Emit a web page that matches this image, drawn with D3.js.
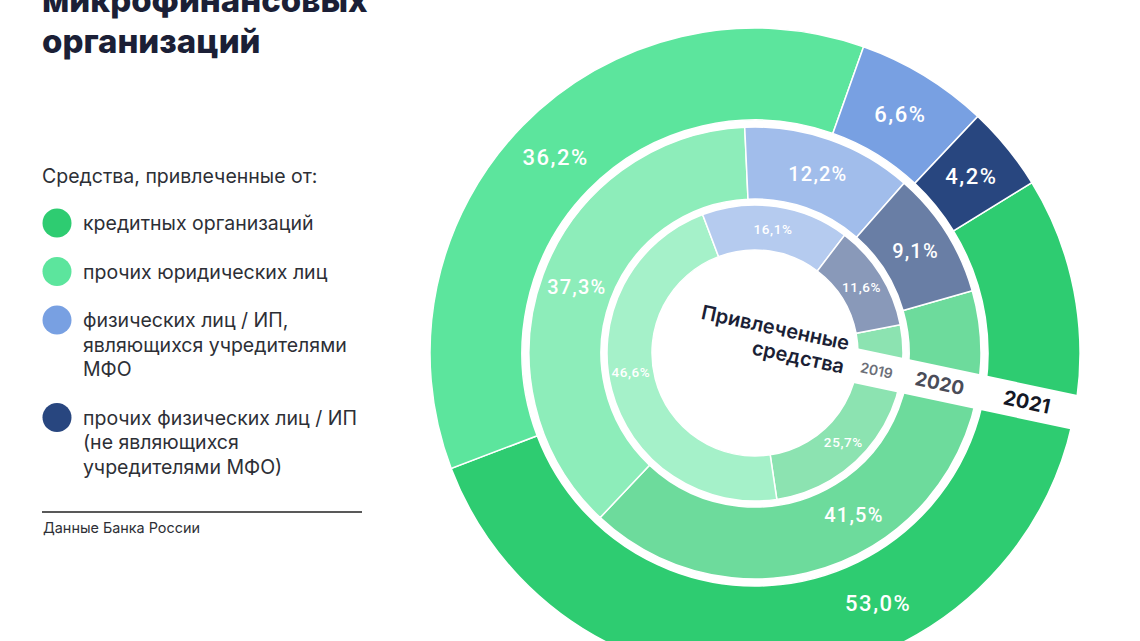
<!DOCTYPE html>
<html>
<head>
<meta charset="utf-8">
<script src="https://cdn.jsdelivr.net/npm/d3@7"></script>
<style>
  html, body { margin: 0; padding: 0; background: #ffffff; }
  svg { display: block; }
</style>
</head>
<body>
<svg id="chart" width="1140" height="641"></svg>
<script>
// ---------- DATA ----------
const categories = [
  "кредитных организаций",
  "прочих юридических лиц",
  "физических лиц / ИП, являющихся учредителями МФО",
  "прочих физических лиц / ИП (не являющихся учредителями МФО)"
];
const legendLines = [
  ["кредитных организаций"],
  ["прочих юридических лиц"],
  ["физических лиц / ИП,", "являющихся учредителями", "МФО"],
  ["прочих физических лиц / ИП", "(не являющихся", "учредителями МФО)"]
];
const years = ["2019", "2020", "2021"];
const values2019 = [25.7, 46.6, 16.1, 11.6];
const values2020 = [41.5, 37.3, 12.2, 9.1];
const values2021 = [53.0, 36.2, 6.6, 4.2];
const seriesByYear = [values2019, values2020, values2021];
const titleLines = ["микрофинансовых", "организаций"];
const legendTitle = "Средства, привлеченные от:";
const sourceText = "Данные Банка России";
const centerLines = ["Привлеченные", "средства"];

// ---------- STYLE / LAYOUT ----------
const colors = ["#2ecc71", "#5ce59d", "#78a0e2", "#28467f"];
const ringOpacity = [0.55, 0.7, 1];
const ringRadii = [[103, 148], [154, 226], [233, 325]];
const startDeg = [79, 74, 58.4];
const labelFont = [13.5, 20, 22];
const labelSpacing = [0.6, 1.2, 1.5];
const labelNudgeDeg = [[10, 6, 0, 0], [0, 0, 0, 0], [0, 0, 0, 0]];
const yearStyle = [
  { size: 14, weight: 600, color: "#6c6f78" },
  { size: 19, weight: 700, color: "#4a4c58" },
  { size: 20, weight: 700, color: "#141826" }
];
const cx = 755, cy = 353, bandAngle = 12, bandTop = -26, bandH = 35;
const ink = "#1b1f36";
const textFont = "Inter, 'Noto Sans', sans-serif";
const numFont = "Roboto, 'DejaVu Sans', sans-serif";

const svg = d3.select("#chart");

// ---------- RINGS ----------
const chart = svg.append("g").attr("transform", `translate(${cx},${cy})`);
const toRad = d => d * Math.PI / 180;

seriesByYear.forEach((vals, ri) => {
  const data = vals.map((v, i) => ({ v, i }));
  const s = toRad(startDeg[ri]);
  const pie = d3.pie().value(d => d.v).sort(null).startAngle(s).endAngle(s + 2 * Math.PI);
  const arcs = pie(data);
  const [r0, r1] = ringRadii[ri];
  const arc = d3.arc().innerRadius(r0).outerRadius(r1);
  const g = chart.append("g").attr("class", "ring ring-" + years[ri]);
  g.selectAll("path").data(arcs).join("path")
    .attr("d", arc)
    .attr("fill", d => d3.interpolateRgb("#ffffff", colors[d.data.i])(ringOpacity[ri]))
    .attr("stroke", "#ffffff")
    .attr("stroke-width", 1.5);
  const rm = (r0 + r1) / 2;
  g.selectAll("text").data(arcs).join("text")
    .attr("transform", d => {
      const a = (d.startAngle + d.endAngle) / 2 + toRad(labelNudgeDeg[ri][d.data.i]);
      return `translate(${rm * Math.sin(a)},${-rm * Math.cos(a)})`;
    })
    .attr("text-anchor", "middle")
    .attr("dominant-baseline", "central")
    .attr("fill", "#ffffff")
    .attr("font-family", numFont)
    .attr("font-weight", 500)
    .attr("font-size", labelFont[ri])
    .attr("letter-spacing", labelSpacing[ri])
    .text(d => d3.format(".1f")(d.data.v).replace(".", ",") + "%");
});

// ---------- BAND + YEAR LABELS ----------
const band = chart.append("g").attr("transform", `rotate(${bandAngle})`);
band.append("rect")
  .attr("x", 40).attr("y", bandTop)
  .attr("width", 340).attr("height", bandH)
  .attr("fill", "#ffffff");
band.selectAll("text.year").data(years).join("text")
  .attr("class", "year")
  .attr("x", (d, i) => (ringRadii[i][0] + ringRadii[i][1]) / 2 - 3)
  .attr("y", bandTop + bandH / 2)
  .attr("text-anchor", "middle")
  .attr("dominant-baseline", "central")
  .attr("font-family", textFont)
  .attr("font-size", (d, i) => yearStyle[i].size)
  .attr("font-weight", (d, i) => yearStyle[i].weight)
  .attr("fill", (d, i) => yearStyle[i].color)
  .text(d => d);

// center text
band.selectAll("text.center").data(centerLines).join("text")
  .attr("class", "center")
  .attr("x", 90)
  .attr("y", (d, i) => -22 + i * 24)
  .attr("text-anchor", "end")
  .attr("font-family", textFont)
  .attr("font-size", 20)
  .attr("font-weight", 600)
  .attr("fill", ink)
  .text(d => d);

// ---------- TITLE ----------
svg.append("g").selectAll("text").data(titleLines).join("text")
  .attr("x", 42)
  .attr("y", (d, i) => 12 + i * 41)
  .attr("font-family", textFont)
  .attr("font-size", 33)
  .attr("font-weight", 800)
  .attr("fill", ink)
  .text(d => d);

// ---------- LEGEND ----------
const legend = svg.append("g");
const legendSize = 19.5;
legend.append("text")
  .attr("x", 42).attr("y", 176)
  .attr("dominant-baseline", "central")
  .attr("font-family", textFont)
  .attr("font-size", legendSize)
  .attr("fill", "#2d2f36")
  .text(legendTitle);

const lineH = 24.5, itemGap = 24;
let yCursor = 223;
const itemY = legendLines.map(lines => { const y = yCursor; yCursor += lines.length * lineH + itemGap; return y; });

const items = legend.selectAll("g.item").data(categories).join("g")
  .attr("class", "item")
  .attr("transform", (d, i) => `translate(0,${itemY[i]})`);
items.append("circle")
  .attr("cx", 57).attr("cy", 0).attr("r", 14.5)
  .attr("fill", (d, i) => colors[i]);
items.each(function (d, i) {
  d3.select(this).selectAll("text").data(legendLines[i]).join("text")
    .attr("x", 83)
    .attr("y", (t, j) => j * lineH)
    .attr("dominant-baseline", "central")
    .attr("font-family", textFont)
    .attr("font-size", legendSize)
    .attr("fill", "#2d2f36")
    .text(t => t);
});

legend.append("line")
  .attr("x1", 42).attr("x2", 362)
  .attr("y1", 512).attr("y2", 512)
  .attr("stroke", "#222")
  .attr("stroke-width", 1.5);
legend.append("text")
  .attr("x", 43).attr("y", 527)
  .attr("dominant-baseline", "central")
  .attr("font-family", textFont)
  .attr("font-size", 14.4)
  .attr("fill", "#2d2f36")
  .text(sourceText);
</script>
</body>
</html>
